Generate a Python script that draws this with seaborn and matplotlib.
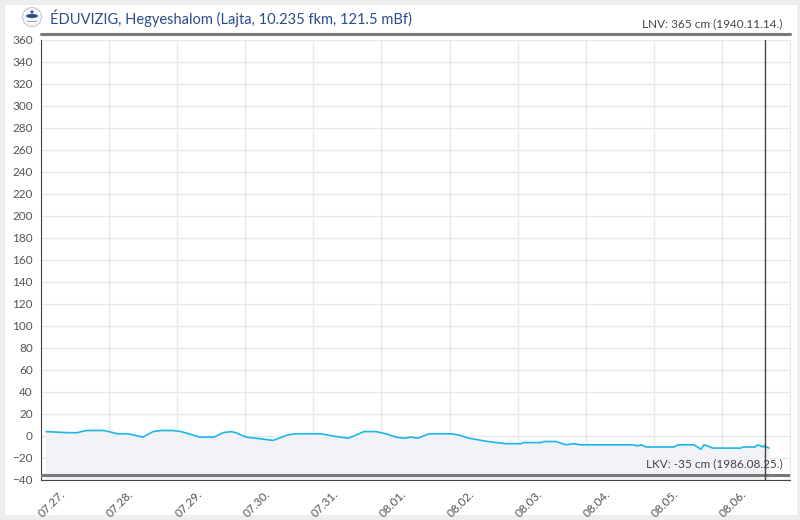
import numpy as np
import pandas as pd
import matplotlib
matplotlib.use("Agg")
import matplotlib.pyplot as plt
import matplotlib.dates as mdates
import matplotlib.transforms as mtransforms
from matplotlib.patches import Rectangle, Ellipse
import seaborn as sns

# Vízállás adatok (óra a 07.27. 00:00 óta, cm)
hours = [1.8, 9.4, 12.7, 15.9, 17.6, 22.2, 27.1, 30.7, 35.9, 39.5, 42.3, 46.5,
         49.3, 52.2, 55.7, 61.0, 64.1, 67.0, 68.7, 72.2, 75.8, 81.8, 87.0, 89.9,
         98.7, 102.9, 108.2, 110.3, 113.8, 118.1, 121.6, 125.1, 127.9, 130.4,
         132.9, 136.7, 144.5, 147.0, 150.8, 157.5, 163.9, 169.2, 170.2, 176.2,
         177.3, 181.5, 185.0, 187.8, 190.3, 197.4, 200.2, 205.1, 208.6, 210.4,
         211.5, 213.2, 223.1, 224.5, 230.1, 232.6, 233.7, 236.8, 246.7, 247.4,
         251.6, 252.7, 254.5, 254.8, 256.6]
levels = [4, 3, 3, 5, 5, 5, 2, 2, -1, 4, 5, 5,
          4, 2, -1, -1, 3, 4, 3, -1, -2, -4, 1, 2,
          2, 0, -2, 0, 4, 4, 2, -1, -2, -1,
          -2, 2, 2, 1, -2, -5, -7, -7, -6, -6,
          -5, -5, -8, -7, -8, -8, -8, -8, -8, -9,
          -8, -10, -10, -8, -8, -12, -8, -11, -11, -10,
          -10, -8, -10, -9, -11]

start = pd.Timestamp("2024-07-27")
now_hour = 255.2
lnv, lnv_text = 365, "LNV: 365 cm (1940.11.14.)"
lkv, lkv_text = -35, "LKV: -35 cm (1986.08.25.)"
title = "ÉDUVIZIG, Hegyeshalom (Lajta, 10.235 fkm, 121.5 mBf)"
y_ticks = list(range(-40, 361, 20))

df = pd.DataFrame({"time": start + pd.to_timedelta(hours, unit="h"), "level": levels})

sns.set_style("white")
plt.rcParams["font.family"] = ["Lato", "DejaVu Sans"]

fig = plt.figure(figsize=(8, 5.2), dpi=100)
fig.patch.set_facecolor("#eeeeee")
fig.patches.append(Rectangle((5 / 800, 5 / 520), 792 / 800, 510 / 520, transform=fig.transFigure,
                             facecolor="white", edgecolor="none", zorder=-5))

ax = fig.add_axes([41 / 800, 40 / 520, 749 / 800, 440 / 520])
ax.set_zorder(2)
ax.set_facecolor("none")

x_end = start + pd.Timedelta(days=11)
ax.set_xlim(start, x_end)
ax.set_ylim(-40, 360)

ax.fill_between(df["time"], df["level"], -40, color="#f2f3f7", zorder=1)
sns.lineplot(data=df, x="time", y="level", ax=ax, color="#1cb6e8", linewidth=1.2, zorder=3)

# LNV / LKV vonalak
ax.plot([start, x_end], [lnv, lnv], color="#7a7a7a", linewidth=2.2, clip_on=False, zorder=4)
ax.plot([start, x_end], [lkv, lkv], color="#7a7a7a", linewidth=2.2, zorder=4)
ax.text(0.99, lnv + 5, lnv_text, transform=ax.get_yaxis_transform(), ha="right", va="bottom",
        fontsize=8.5, color="#444444")
ax.text(0.99, lkv + 5, lkv_text, transform=ax.get_yaxis_transform(), ha="right", va="bottom",
        fontsize=8.5, color="#444444")

# aktuális időpont
ax.axvline(start + pd.Timedelta(hours=now_hour), color="#444444", linewidth=1, zorder=5)

ax.set_yticks(y_ticks)
ax.xaxis.set_major_locator(mdates.DayLocator())
ax.xaxis.set_major_formatter(mdates.DateFormatter("%m.%d."))
ax.grid(True, color="#e8e8e8", linewidth=1)
ax.set_axisbelow(True)
ax.set_xlabel("")
ax.set_ylabel("")

ax.spines["top"].set_visible(False)
ax.spines["right"].set_color("#e8e8e8")
ax.spines["left"].set_color("#444444")
ax.spines["bottom"].set_color("#444444")
ax.tick_params(axis="both", direction="out", length=4, width=1, color="#444444",
               labelsize=8.5, labelcolor="#555555", pad=2)

# az utolsó (08.07.) címke nem látszik
ax.set_xticks(ax.get_xticks()[:-1])
offset = mtransforms.ScaledTranslation(8 / 72, 0, fig.dpi_scale_trans)
for lab in ax.get_xticklabels():
    lab.set_rotation(45)
    lab.set_ha("center")
    lab.set_transform(lab.get_transform() + offset)

# fejléc + logó
fig.text(50 / 800, 1 - 18 / 520, title, ha="left", va="center", fontsize=10.5, color="#2b4c8c")
cx, cy = 32 / 800, 1 - 17 / 520
fig.patches.append(Ellipse((cx, cy), 19 / 800, 19 / 520, transform=fig.transFigure,
                           facecolor="#f6f7f9", edgecolor="#c2c8d2", linewidth=0.8, zorder=2))
fig.patches.append(Ellipse((cx, cy + 1 / 520), 12 / 800, 4 / 520, transform=fig.transFigure,
                           facecolor="#2b4c8c", edgecolor="none", zorder=3))
fig.patches.append(Ellipse((cx, cy + 5 / 520), 3 / 800, 3 / 520, transform=fig.transFigure,
                           facecolor="#2b4c8c", edgecolor="none", zorder=3))
fig.patches.append(Rectangle((cx - 5 / 800, cy - 5 / 520), 10 / 800, 1.5 / 520,
                             transform=fig.transFigure, facecolor="#9aa3b0",
                             edgecolor="none", zorder=3))

fig.savefig("out.png", dpi=100, facecolor=fig.get_facecolor())
